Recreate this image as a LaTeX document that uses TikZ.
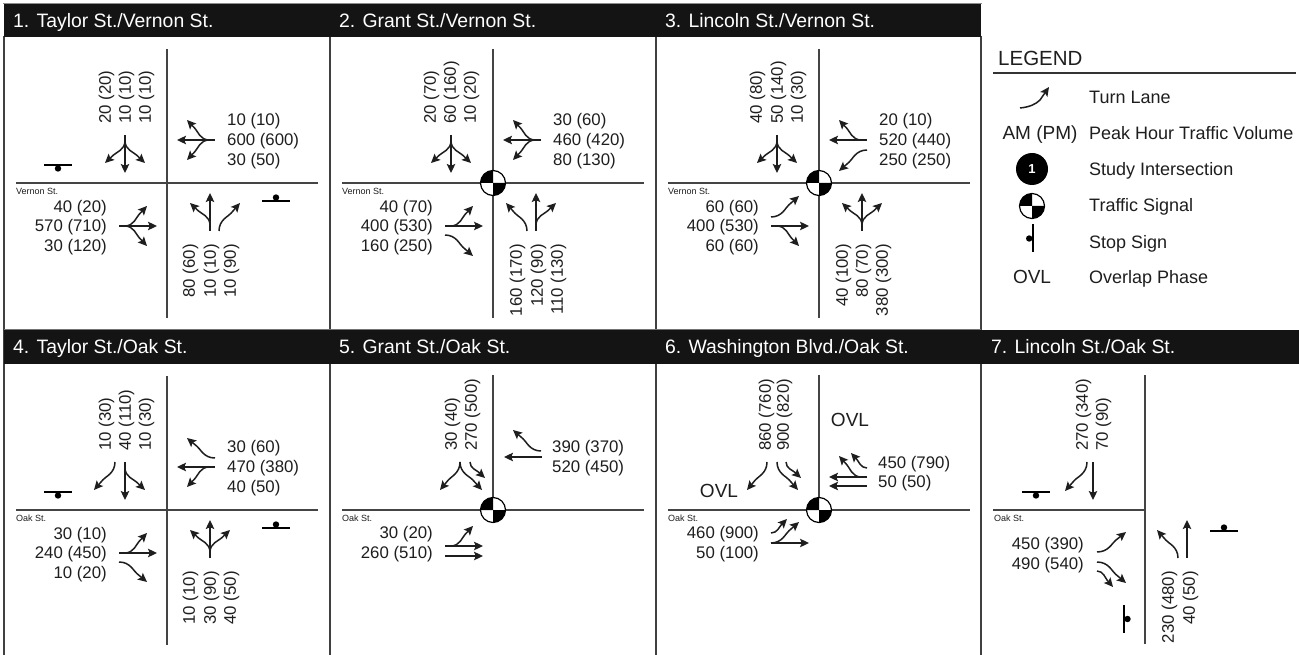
\documentclass[tikz,border=0pt]{standalone}
\usepackage{fontspec}
\setmainfont{Liberation Sans}
\usetikzlibrary{arrows.meta}
\definecolor{txt}{HTML}{1E1E1E}
\definecolor{hdr}{HTML}{141414}
\definecolor{roadc}{HTML}{444444}
\newcommand{\fontLab}{\fontsize{16.8}{18}\selectfont}
\newcommand{\fontTit}{\fontsize{19.4}{21}\selectfont}
\newcommand{\fontStr}{\fontsize{9}{10}\selectfont}
\newcommand{\fontLeg}{\fontsize{18}{20}\selectfont}
\newcommand{\fontOvl}{\fontsize{19}{21}\selectfont}
\newcount\nodeNo
\newcommand{\nd}{\global\advance\nodeNo by 1 \node (n\the\nodeNo)}
\tikzset{
  mv/.style={line width=1.5pt,draw=txt,-{Stealth[length=9pt,width=8.5pt,inset=1.8pt]}},
  road/.style={line width=1.4pt,draw=roadc},
  frameline/.style={line width=1.3pt,draw=black!75},
  stopbar/.style={line width=1.2pt,draw=black},
  lab/.style={font=\fontLab,inner sep=0pt,text=txt,text height=11.8pt,text depth=0pt},
  streetlab/.style={font=\fontStr,inner sep=0pt,text=txt,anchor=west,text height=6.4pt,text depth=0pt},
  titlelab/.style={font=\fontTit,inner sep=0pt,text=white,anchor=west,text height=13.9pt,text depth=0pt},
  leglab/.style={font=\fontLeg,inner sep=0pt,text=txt,anchor=west,text height=12.9pt,text depth=0pt},
  ovllab/.style={font=\fontOvl,inner sep=0pt,text=txt,text height=13.6pt,text depth=0pt},
}
% approach frames
\newcommand{\appr}[2]{\begin{scope}[rotate=#1]#2\end{scope}}
\newcommand{\Thru}[1]{\draw[mv] (#1,48) -- (#1,10);}
\newcommand{\Crv}[4]{\draw[mv] ({#1},{#2}) .. controls ({#1},{#2-0.4*(#2-#4)}) and ({(#3)+0.55*(#1-(#3))},{#4+0.48*(#2-#4)}) .. ({(#3)+0.42*(#1-(#3))},{#4+0.36*(#2-#4)}) -- ({#3},{#4});}
\newcommand{\ForkL}[1]{\Crv{#1}{42}{#1-20}{20}}
\newcommand{\ForkR}[1]{\Crv{#1}{42}{#1+20}{20}}
% labels
\newcommand{\lbW}[3][60]{\nd[lab,anchor=west] at (#1,#2) {#3};}
\newcommand{\lbE}[3][-60]{\nd[lab,anchor=east] at (#1,#2) {#3};}
\newcommand{\lbS}[3][-59]{\nd[lab,rotate=90,anchor=west] at (#2,#1) {#3};}
\newcommand{\lbN}[3][61]{\nd[lab,rotate=90,anchor=east] at (#2,#1) {#3};}
\newcommand{\streetName}[1]{\nd[streetlab] at (-151,8.2) {#1};}
\newcommand{\stopH}[3]{\draw[stopbar] ({#1-14},#2) -- ({#1+14},#2); \fill[black] (#1,{#2+#3}) circle[radius=3.2pt];}
\newcommand{\stopV}[3]{\draw[stopbar] (#1,{#2-14}) -- (#1,{#2+14}); \fill[black] ({#1+#3},#2) circle[radius=3.2pt];}
\newcommand{\signalMark}[1][12.5]{\fill[white] (0,0) circle[radius=#1pt];
  \fill[black] (0,0) -- (-#1,0) arc[start angle=180,end angle=90,radius=#1pt] -- cycle;
  \fill[black] (0,0) -- (#1,0) arc[start angle=0,end angle=-90,radius=#1pt] -- cycle;
  \draw[line width=1.2pt,black] (0,0) circle[radius=#1pt];}
\newcommand{\roadsFull}{\draw[road] (-151,0) -- (151,0); \draw[road] (0,-134) -- (0,135);}
\newcommand{\panelAt}[3]{\begin{scope}[shift={(#1,#2)}]#3\end{scope}}
\begin{document}
\begin{tikzpicture}[x=1pt,y=-1pt]
\useasboundingbox (0,0) rectangle (1299,655);
\fill[white] (0,0) rectangle (1299,655);
% frame
\draw[line width=0.8pt,black!45] (3,3) -- (982,3);
\foreach \fx in {4,330,656,981}{
  \draw[frameline] (\fx,36) -- (\fx,655);
}
\draw[line width=1.2pt,black!55] (4,329.5) -- (981,329.5);
\fill[hdr] (4,4) rectangle (981,37);
\fill[hdr] (4,330) rectangle (1299,364);
\nd[titlelab] at (13,21) {1. Taylor St./Vernon St.};
\nd[titlelab] at (339,21) {2. Grant St./Vernon St.};
\nd[titlelab] at (665,21) {3. Lincoln St./Vernon St.};
\nd[titlelab] at (13,347) {4. Taylor St./Oak St.};
\nd[titlelab] at (339,347) {5. Grant St./Oak St.};
\nd[titlelab] at (665,347) {6. Washington Blvd./Oak St.};
\nd[titlelab] at (991,347) {7. Lincoln St./Oak St.};
% P1
\panelAt{167}{183}{
\roadsFull \streetName{Vernon St.}
\appr{0}{\Thru{43}\ForkL{43}\Crv{52}{48}{73}{20}}
\appr{90}{\Thru{43}\ForkL{43}\ForkR{43}}
\appr{180}{\Thru{42}\ForkL{42}\ForkR{42}}
\appr{270}{\Thru{43}\ForkL{43}\ForkR{43}}
\stopH{-109}{-18}{3.5}\stopH{109}{18}{-3.5}
\lbS{-62}{20 (20)}\lbS{-42}{10 (10)}\lbS{-22}{10 (10)}
\lbN{22}{80 (60)}\lbN{43}{10 (10)}\lbN{63}{10 (90)}
\lbW{-63}{10 (10)}\lbW{-43}{600 (600)}\lbW{-23}{30 (50)}
\lbE{24}{40 (20)}\lbE{43}{570 (710)}\lbE{63}{30 (120)}
}
% P2
\panelAt{493}{183}{
\roadsFull \streetName{Vernon St.}
\signalMark
\appr{0}{\Thru{43}\ForkR{43}\Crv{34}{48}{13}{20}}
\appr{90}{\Thru{43}\ForkL{43}\ForkR{43}}
\appr{180}{\Thru{42}\ForkL{42}\ForkR{42}}
\appr{270}{\Thru{43}\ForkL{43}\Crv{52}{48}{73}{20}}
\lbS{-63}{20 (70)}\lbS{-43}{60 (160)}\lbS{-23}{10 (20)}
\lbN{23}{160 (170)}\lbN{44}{120 (90)}\lbN{64}{110 (130)}
\lbW{-63}{30 (60)}\lbW{-43}{460 (420)}\lbW{-23}{80 (130)}
\lbE{24}{40 (70)}\lbE{43}{400 (530)}\lbE{63}{160 (250)}
}
% P3
\panelAt{819}{183}{
\roadsFull \streetName{Vernon St.}
\signalMark
\appr{0}{\Thru{43}\ForkL{43}\ForkR{43}}
\appr{90}{\Thru{43}\ForkR{43}\Crv{33}{48}{12}{20}}
\appr{180}{\Thru{42}\ForkL{42}\ForkR{42}}
\appr{270}{\Thru{43}\ForkR{43}\Crv{34}{48}{13}{20}}
\lbS{-63}{40 (80)}\lbS{-42}{50 (140)}\lbS{-22}{10 (30)}
\lbN{23}{40 (100)}\lbN{43}{80 (70)}\lbN{63}{380 (300)}
\lbW{-63}{20 (10)}\lbW{-43}{520 (440)}\lbW{-23}{250 (250)}
\lbE{24}{60 (60)}\lbE{43}{400 (530)}\lbE{63}{60 (60)}
}
% P4
\panelAt{167}{510}{
\roadsFull \streetName{Oak St.}
\appr{0}{\Thru{43}\ForkL{43}\ForkR{43}}
\appr{90}{\Thru{43}\ForkL{43}\Crv{52}{48}{72}{20}}
\appr{180}{\Thru{42}\ForkL{42}\Crv{52}{48}{73}{20}}
\appr{270}{\Thru{43}\ForkL{43}\Crv{52}{48}{72}{20}}
\stopH{-109}{-18}{3.5}\stopH{109}{18}{-3.5}
\lbS{-62}{10 (30)}\lbS{-42}{40 (110)}\lbS{-22}{10 (30)}
\lbN{22}{10 (10)}\lbN{43}{30 (90)}\lbN{63}{40 (50)}
\lbW{-63}{30 (60)}\lbW{-43}{470 (380)}\lbW{-23}{40 (50)}
\lbE{24}{30 (10)}\lbE{43}{240 (450)}\lbE{63}{10 (20)}
}
% P5
\panelAt{493}{510}{
\draw[road] (-151,0) -- (151,0); \draw[road] (0,-135) -- (0,0);
\streetName{Oak St.}
\signalMark
\appr{90}{\draw[mv] (53,49) -- (53,11); \Crv{59}{48}{80}{20}}
\appr{180}{\Crv{33}{48}{11}{20}\Crv{33}{48}{53}{20}\Crv{23}{48}{8}{32}}
\appr{270}{\Thru{36}\Thru{46}\Crv{36}{42}{16}{20}}
\lbS{-42}{30 (40)}\lbS{-22}{270 (500)}
\lbW[59]{-63}{390 (370)}\lbW[59]{-43}{520 (450)}
\lbE{23}{30 (20)}\lbE{43}{260 (510)}
}
% P6
\panelAt{819}{510}{
\draw[road] (-151,0) -- (151,0); \draw[road] (0,-135) -- (0,0);
\streetName{Oak St.}
\signalMark
\appr{90}{\Thru{33}\Thru{24}\Crv{33}{42}{54}{20}\Crv{42}{48}{57}{32}}
\appr{180}{\Crv{52}{48}{72}{20}\Crv{42}{48}{21}{20}\Crv{33}{48}{18}{32}}
\appr{270}{\Thru{33}\Crv{33}{48}{12}{20}\Crv{23}{48}{9}{32}}
\lbS{-54}{860 (760)}\lbS{-36}{900 (820)}
\lbW[59]{-47}{450 (790)}\lbW[59]{-28}{50 (50)}
\lbE{23}{460 (900)}\lbE{43}{50 (100)}
\nd[ovllab] at (31,-90) {OVL};
\nd[ovllab] at (-100,-19) {OVL};
}
% P7
\panelAt{1145}{510}{
\draw[road] (-152,0) -- (0,0); \draw[road] (0,-135) -- (0,134);
\streetName{Oak St.}
\appr{0}{\Thru{42}\Crv{33}{48}{12}{20}}
\appr{180}{\Thru{52}\Crv{58}{48}{80}{19}}
\appr{270}{\Crv{42}{48}{22}{19}\Crv{52}{48}{73}{19}\Crv{61}{48}{77}{32}}
\stopH{-109}{-18}{3.5}\stopH{79}{21}{-3.5}\stopV{-21}{109}{3.5}
\lbS{-63}{270 (340)}\lbS{-43}{70 (90)}
\lbN{23}{230 (480)}\lbN{44}{40 (50)}
\lbE[-61]{34}{450 (390)}\lbE[-61]{54}{490 (540)}
}
% Legend
\nd[leglab,font=\fontsize{20.5}{22}\selectfont,text height=14.7pt] at (998,58) {LEGEND};
\draw[line width=1.4pt,black!80] (993,73) -- (1296,73);
\coordinate (turnA) at (1020,108);
\coordinate (turnB) at (1049,87);
\coordinate (turnM) at (1040,100);
\draw[mv] (turnA) .. controls (1030,107) and (1036,104) .. (turnM) -- (turnB);
\nd[leglab] at (1089,97) {Turn Lane};
\nd[ovllab] at (1040,133) {AM (PM)};
\nd[leglab] at (1089,133) {Peak Hour Traffic Volume};
\fill[black] (1032,169) circle[radius=16pt];
\nd[leglab,anchor=center,text=white,font=\fontsize{13}{14}\bfseries\selectfont,text height=9.3pt] at (1032,169) {1};
\nd[leglab] at (1089,169) {Study Intersection};
\panelAt{1032}{206}{\signalMark}
\nd[leglab] at (1089,205) {Traffic Signal};
\stopV{1033}{238.5}{-3.8}
\nd[leglab] at (1089,242) {Stop Sign};
\nd[ovllab] at (1032,277) {OVL};
\nd[leglab] at (1089,277) {Overlap Phase};
\end{tikzpicture}
\end{document}
